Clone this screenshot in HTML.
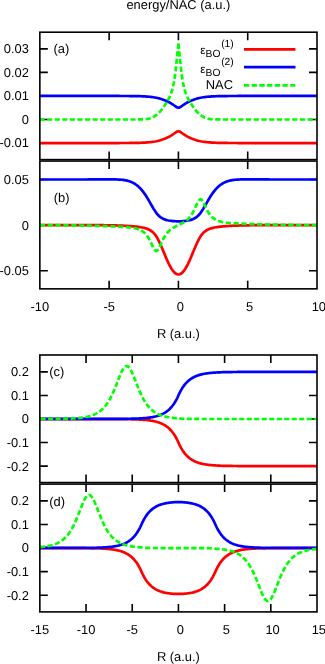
<!DOCTYPE html>
<html><head><meta charset="utf-8"><title>plot</title>
<style>
html,body{margin:0;padding:0;background:#fff;}
body{width:325px;height:664px;overflow:hidden;}
svg{display:block;will-change:transform;text-rendering:geometricPrecision;font-family:"Liberation Sans",sans-serif;fill:#000;}
</style></head><body>
<svg width="325" height="664" viewBox="0 0 325 664">
<rect width="325" height="664" fill="#fff"/>
<clipPath id="cpa"><rect x="39.85" y="32.2" width="277.15" height="127.39999999999999"/></clipPath>
<path d="M109.14,159.6 V151.6 M109.14,32.2 V40.2 M178.42,159.6 V151.6 M178.42,32.2 V40.2 M247.71,159.6 V151.6 M247.71,32.2 V40.2 M39.85,143.05 H47.85 M317.0,143.05 H309.0 M39.85,119.50 H47.85 M317.0,119.50 H309.0 M39.85,95.95 H47.85 M317.0,95.95 H309.0 M39.85,72.40 H47.85 M317.0,72.40 H309.0 M39.85,48.85 H47.85 M317.0,48.85 H309.0" fill="none" stroke="#000" stroke-width="1.6"/>
<g clip-path="url(#cpa)">
<path d="M39.85,143.05 L41.24,143.05 L42.62,143.05 L44.01,143.05 L45.39,143.05 L46.78,143.05 L48.16,143.05 L49.55,143.05 L50.94,143.05 L52.32,143.05 L53.71,143.05 L55.09,143.05 L56.48,143.05 L57.86,143.05 L59.25,143.05 L60.64,143.05 L62.02,143.05 L63.41,143.05 L64.79,143.05 L66.18,143.05 L67.56,143.05 L68.95,143.05 L70.34,143.05 L71.72,143.05 L73.11,143.05 L74.49,143.05 L75.88,143.05 L77.27,143.05 L78.65,143.05 L80.04,143.05 L81.42,143.05 L82.81,143.05 L84.19,143.05 L85.58,143.05 L86.97,143.05 L88.35,143.05 L89.74,143.05 L91.12,143.05 L92.51,143.05 L93.89,143.05 L95.28,143.05 L96.67,143.05 L98.05,143.05 L99.44,143.05 L100.82,143.05 L102.21,143.05 L103.59,143.05 L104.98,143.05 L106.37,143.04 L107.75,143.04 L109.14,143.04 L110.52,143.04 L111.91,143.04 L113.29,143.04 L114.68,143.04 L116.07,143.03 L117.45,143.03 L118.84,143.03 L120.22,143.02 L121.61,143.02 L123.00,143.01 L124.38,143.00 L125.77,143.00 L127.15,142.99 L128.54,142.98 L129.92,142.96 L131.31,142.95 L132.70,142.93 L134.08,142.91 L135.47,142.88 L136.85,142.86 L138.24,142.82 L139.62,142.78 L141.01,142.74 L142.40,142.68 L143.78,142.62 L145.17,142.54 L146.55,142.46 L147.94,142.35 L149.32,142.23 L150.71,142.09 L152.10,141.93 L153.48,141.73 L154.87,141.51 L156.25,141.25 L157.64,140.95 L159.02,140.61 L160.41,140.22 L161.80,139.79 L163.18,139.31 L164.57,138.79 L165.95,138.22 L167.34,137.60 L168.72,136.93 L170.11,136.19 L171.50,135.38 L172.88,134.49 L174.27,133.51 L175.65,132.52 L177.04,131.67 L178.42,131.28 L179.81,131.67 L181.20,132.52 L182.58,133.51 L183.97,134.49 L185.35,135.38 L186.74,136.19 L188.13,136.93 L189.51,137.60 L190.90,138.22 L192.28,138.79 L193.67,139.31 L195.05,139.79 L196.44,140.22 L197.83,140.61 L199.21,140.95 L200.60,141.25 L201.98,141.51 L203.37,141.73 L204.75,141.93 L206.14,142.09 L207.53,142.23 L208.91,142.35 L210.30,142.46 L211.68,142.54 L213.07,142.62 L214.45,142.68 L215.84,142.74 L217.23,142.78 L218.61,142.82 L220.00,142.86 L221.38,142.88 L222.77,142.91 L224.15,142.93 L225.54,142.95 L226.93,142.96 L228.31,142.98 L229.70,142.99 L231.08,143.00 L232.47,143.00 L233.85,143.01 L235.24,143.02 L236.63,143.02 L238.01,143.03 L239.40,143.03 L240.78,143.03 L242.17,143.04 L243.56,143.04 L244.94,143.04 L246.33,143.04 L247.71,143.04 L249.10,143.04 L250.48,143.04 L251.87,143.05 L253.26,143.05 L254.64,143.05 L256.03,143.05 L257.41,143.05 L258.80,143.05 L260.18,143.05 L261.57,143.05 L262.96,143.05 L264.34,143.05 L265.73,143.05 L267.11,143.05 L268.50,143.05 L269.88,143.05 L271.27,143.05 L272.66,143.05 L274.04,143.05 L275.43,143.05 L276.81,143.05 L278.20,143.05 L279.58,143.05 L280.97,143.05 L282.36,143.05 L283.74,143.05 L285.13,143.05 L286.51,143.05 L287.90,143.05 L289.28,143.05 L290.67,143.05 L292.06,143.05 L293.44,143.05 L294.83,143.05 L296.21,143.05 L297.60,143.05 L298.99,143.05 L300.37,143.05 L301.76,143.05 L303.14,143.05 L304.53,143.05 L305.91,143.05 L307.30,143.05 L308.69,143.05 L310.07,143.05 L311.46,143.05 L312.84,143.05 L314.23,143.05 L315.61,143.05 L317.00,143.05" fill="none" stroke="#ff0000" stroke-width="2.7" stroke-linejoin="round"/>
<path d="M39.85,95.95 L41.24,95.95 L42.62,95.95 L44.01,95.95 L45.39,95.95 L46.78,95.95 L48.16,95.95 L49.55,95.95 L50.94,95.95 L52.32,95.95 L53.71,95.95 L55.09,95.95 L56.48,95.95 L57.86,95.95 L59.25,95.95 L60.64,95.95 L62.02,95.95 L63.41,95.95 L64.79,95.95 L66.18,95.95 L67.56,95.95 L68.95,95.95 L70.34,95.95 L71.72,95.95 L73.11,95.95 L74.49,95.95 L75.88,95.95 L77.27,95.95 L78.65,95.95 L80.04,95.95 L81.42,95.95 L82.81,95.95 L84.19,95.95 L85.58,95.95 L86.97,95.95 L88.35,95.95 L89.74,95.95 L91.12,95.95 L92.51,95.95 L93.89,95.95 L95.28,95.95 L96.67,95.95 L98.05,95.95 L99.44,95.95 L100.82,95.95 L102.21,95.95 L103.59,95.95 L104.98,95.95 L106.37,95.96 L107.75,95.96 L109.14,95.96 L110.52,95.96 L111.91,95.96 L113.29,95.96 L114.68,95.96 L116.07,95.97 L117.45,95.97 L118.84,95.97 L120.22,95.98 L121.61,95.98 L123.00,95.99 L124.38,96.00 L125.77,96.00 L127.15,96.01 L128.54,96.02 L129.92,96.04 L131.31,96.05 L132.70,96.07 L134.08,96.09 L135.47,96.12 L136.85,96.14 L138.24,96.18 L139.62,96.22 L141.01,96.26 L142.40,96.32 L143.78,96.38 L145.17,96.46 L146.55,96.54 L147.94,96.65 L149.32,96.77 L150.71,96.91 L152.10,97.07 L153.48,97.27 L154.87,97.49 L156.25,97.75 L157.64,98.05 L159.02,98.39 L160.41,98.78 L161.80,99.21 L163.18,99.69 L164.57,100.21 L165.95,100.78 L167.34,101.40 L168.72,102.07 L170.11,102.81 L171.50,103.62 L172.88,104.51 L174.27,105.49 L175.65,106.48 L177.04,107.33 L178.42,107.72 L179.81,107.33 L181.20,106.48 L182.58,105.49 L183.97,104.51 L185.35,103.62 L186.74,102.81 L188.13,102.07 L189.51,101.40 L190.90,100.78 L192.28,100.21 L193.67,99.69 L195.05,99.21 L196.44,98.78 L197.83,98.39 L199.21,98.05 L200.60,97.75 L201.98,97.49 L203.37,97.27 L204.75,97.07 L206.14,96.91 L207.53,96.77 L208.91,96.65 L210.30,96.54 L211.68,96.46 L213.07,96.38 L214.45,96.32 L215.84,96.26 L217.23,96.22 L218.61,96.18 L220.00,96.14 L221.38,96.12 L222.77,96.09 L224.15,96.07 L225.54,96.05 L226.93,96.04 L228.31,96.02 L229.70,96.01 L231.08,96.00 L232.47,96.00 L233.85,95.99 L235.24,95.98 L236.63,95.98 L238.01,95.97 L239.40,95.97 L240.78,95.97 L242.17,95.96 L243.56,95.96 L244.94,95.96 L246.33,95.96 L247.71,95.96 L249.10,95.96 L250.48,95.96 L251.87,95.95 L253.26,95.95 L254.64,95.95 L256.03,95.95 L257.41,95.95 L258.80,95.95 L260.18,95.95 L261.57,95.95 L262.96,95.95 L264.34,95.95 L265.73,95.95 L267.11,95.95 L268.50,95.95 L269.88,95.95 L271.27,95.95 L272.66,95.95 L274.04,95.95 L275.43,95.95 L276.81,95.95 L278.20,95.95 L279.58,95.95 L280.97,95.95 L282.36,95.95 L283.74,95.95 L285.13,95.95 L286.51,95.95 L287.90,95.95 L289.28,95.95 L290.67,95.95 L292.06,95.95 L293.44,95.95 L294.83,95.95 L296.21,95.95 L297.60,95.95 L298.99,95.95 L300.37,95.95 L301.76,95.95 L303.14,95.95 L304.53,95.95 L305.91,95.95 L307.30,95.95 L308.69,95.95 L310.07,95.95 L311.46,95.95 L312.84,95.95 L314.23,95.95 L315.61,95.95 L317.00,95.95" fill="none" stroke="#0000ff" stroke-width="2.7" stroke-linejoin="round"/>
<path d="M178.42,43.69 L176.94,58.17 L175.46,72.08 L173.98,82.17 L172.49,88.98 L171.01,93.70 L169.53,97.20 L168.05,100.05 L166.56,102.55 L165.08,104.85 L163.60,107.01 L162.11,109.01 L160.63,110.85 L159.15,112.50 L157.67,113.94 L156.18,115.17 L154.70,116.19 L153.22,117.02 L151.74,117.68 L150.25,118.19 L148.77,118.58 L147.29,118.86 L145.80,119.07 L144.32,119.22 L142.84,119.32 L141.36,119.38 L139.87,119.43 L138.39,119.46 L136.91,119.47 L135.43,119.48 L133.94,119.49 L132.46,119.50 L130.98,119.50 L129.49,119.50 L128.01,119.50 L126.53,119.50 L125.05,119.50 L123.56,119.50 L122.08,119.50 L120.60,119.50 L119.11,119.50 L117.63,119.50 L116.15,119.50 L114.67,119.50 L113.18,119.50 L111.70,119.50 L110.22,119.50 L108.74,119.50 L107.25,119.50 L105.77,119.50 L104.29,119.50 L102.80,119.50 L101.32,119.50 L99.84,119.50 L98.36,119.50 L96.87,119.50 L95.39,119.50 L93.91,119.50 L92.43,119.50 L90.94,119.50 L89.46,119.50 L87.98,119.50 L86.49,119.50 L85.01,119.50 L83.53,119.50 L82.05,119.50 L80.56,119.50 L79.08,119.50 L77.60,119.50 L76.12,119.50 L74.63,119.50 L73.15,119.50 L71.67,119.50 L70.18,119.50 L68.70,119.50 L67.22,119.50 L65.74,119.50 L64.25,119.50 L62.77,119.50 L61.29,119.50 L59.80,119.50 L58.32,119.50 L56.84,119.50 L55.36,119.50 L53.87,119.50 L52.39,119.50 L50.91,119.50 L49.43,119.50 L47.94,119.50 L46.46,119.50 L44.98,119.50 L43.49,119.50 L42.01,119.50 L40.53,119.50 L39.85,119.50 L39.85,119.50 L39.85,119.50 L39.85,119.50 L39.85,119.50 L39.85,119.50 L39.85,119.50" fill="none" stroke="#00ff00" stroke-width="2.7" stroke-dasharray="5.116,2.460" stroke-linejoin="round"/>
<path d="M178.42,43.69 L179.91,58.17 L181.39,72.08 L182.87,82.17 L184.36,88.98 L185.84,93.70 L187.32,97.20 L188.80,100.05 L190.29,102.55 L191.77,104.85 L193.25,107.01 L194.74,109.01 L196.22,110.85 L197.70,112.50 L199.18,113.94 L200.67,115.17 L202.15,116.19 L203.63,117.02 L205.11,117.68 L206.60,118.19 L208.08,118.58 L209.56,118.86 L211.05,119.07 L212.53,119.22 L214.01,119.32 L215.49,119.38 L216.98,119.43 L218.46,119.46 L219.94,119.47 L221.42,119.48 L222.91,119.49 L224.39,119.50 L225.87,119.50 L227.36,119.50 L228.84,119.50 L230.32,119.50 L231.80,119.50 L233.29,119.50 L234.77,119.50 L236.25,119.50 L237.74,119.50 L239.22,119.50 L240.70,119.50 L242.18,119.50 L243.67,119.50 L245.15,119.50 L246.63,119.50 L248.11,119.50 L249.60,119.50 L251.08,119.50 L252.56,119.50 L254.05,119.50 L255.53,119.50 L257.01,119.50 L258.49,119.50 L259.98,119.50 L261.46,119.50 L262.94,119.50 L264.42,119.50 L265.91,119.50 L267.39,119.50 L268.87,119.50 L270.36,119.50 L271.84,119.50 L273.32,119.50 L274.80,119.50 L276.29,119.50 L277.77,119.50 L279.25,119.50 L280.73,119.50 L282.22,119.50 L283.70,119.50 L285.18,119.50 L286.67,119.50 L288.15,119.50 L289.63,119.50 L291.11,119.50 L292.60,119.50 L294.08,119.50 L295.56,119.50 L297.05,119.50 L298.53,119.50 L300.01,119.50 L301.49,119.50 L302.98,119.50 L304.46,119.50 L305.94,119.50 L307.42,119.50 L308.91,119.50 L310.39,119.50 L311.87,119.50 L313.36,119.50 L314.84,119.50 L316.32,119.50 L317.00,119.50 L317.00,119.50 L317.00,119.50 L317.00,119.50 L317.00,119.50 L317.00,119.50 L317.00,119.50" fill="none" stroke="#00ff00" stroke-width="2.7" stroke-dasharray="5.200,2.500" stroke-linejoin="round"/>
</g>
<rect x="39.85" y="32.2" width="277.15" height="127.39999999999999" fill="none" stroke="#000" stroke-width="1.6"/>
<text x="28.85" y="147.45" text-anchor="end" font-size="12.9">-0.01</text>
<text x="28.85" y="123.90" text-anchor="end" font-size="12.9">0</text>
<text x="28.85" y="100.35" text-anchor="end" font-size="12.9">0.01</text>
<text x="28.85" y="76.80" text-anchor="end" font-size="12.9">0.02</text>
<text x="28.85" y="53.25" text-anchor="end" font-size="12.9">0.03</text>
<text x="53.50" y="53.00" text-anchor="start" font-size="12.9">(a)</text>
<clipPath id="cpb"><rect x="39.85" y="161.05" width="277.15" height="127.80000000000001"/></clipPath>
<path d="M109.14,288.85 V280.85 M109.14,161.05 V169.05 M178.42,288.85 V280.85 M178.42,161.05 V169.05 M247.71,288.85 V280.85 M247.71,161.05 V169.05 M39.85,270.70 H47.85 M317.0,270.70 H309.0 M39.85,225.10 H47.85 M317.0,225.10 H309.0 M39.85,179.50 H47.85 M317.0,179.50 H309.0" fill="none" stroke="#000" stroke-width="1.6"/>
<g clip-path="url(#cpb)">
<path d="M39.85,225.10 L41.24,225.10 L42.62,225.10 L44.01,225.10 L45.39,225.10 L46.78,225.10 L48.16,225.10 L49.55,225.10 L50.94,225.10 L52.32,225.10 L53.71,225.10 L55.09,225.10 L56.48,225.10 L57.86,225.10 L59.25,225.10 L60.64,225.10 L62.02,225.10 L63.41,225.10 L64.79,225.10 L66.18,225.10 L67.56,225.10 L68.95,225.10 L70.34,225.10 L71.72,225.10 L73.11,225.10 L74.49,225.10 L75.88,225.11 L77.27,225.11 L78.65,225.11 L80.04,225.11 L81.42,225.11 L82.81,225.11 L84.19,225.12 L85.58,225.12 L86.97,225.12 L88.35,225.13 L89.74,225.13 L91.12,225.14 L92.51,225.14 L93.89,225.15 L95.28,225.15 L96.67,225.16 L98.05,225.17 L99.44,225.18 L100.82,225.20 L102.21,225.21 L103.59,225.22 L104.98,225.24 L106.37,225.26 L107.75,225.28 L109.14,225.30 L110.52,225.33 L111.91,225.36 L113.29,225.39 L114.68,225.42 L116.07,225.46 L117.45,225.50 L118.84,225.55 L120.22,225.60 L121.61,225.65 L123.00,225.71 L124.38,225.77 L125.77,225.84 L127.15,225.91 L128.54,226.00 L129.92,226.09 L131.31,226.18 L132.70,226.29 L134.08,226.41 L135.47,226.55 L136.85,226.69 L138.24,226.86 L139.62,227.05 L141.01,227.27 L142.40,227.53 L143.78,227.82 L145.17,228.17 L146.55,228.60 L147.94,229.11 L149.32,229.75 L150.71,230.54 L152.10,231.54 L153.48,232.80 L154.87,234.37 L156.25,236.31 L157.64,238.63 L159.02,241.31 L160.41,244.28 L161.80,247.47 L163.18,250.79 L164.57,254.14 L165.95,257.44 L167.34,260.62 L168.72,263.59 L170.11,266.30 L171.50,268.70 L172.88,270.73 L174.27,272.35 L175.65,273.53 L177.04,274.25 L178.42,274.49 L179.81,274.25 L181.20,273.53 L182.58,272.35 L183.97,270.73 L185.35,268.70 L186.74,266.30 L188.13,263.59 L189.51,260.62 L190.90,257.44 L192.28,254.14 L193.67,250.79 L195.05,247.47 L196.44,244.28 L197.83,241.31 L199.21,238.63 L200.60,236.31 L201.98,234.37 L203.37,232.80 L204.75,231.54 L206.14,230.54 L207.53,229.75 L208.91,229.11 L210.30,228.60 L211.68,228.17 L213.07,227.82 L214.45,227.53 L215.84,227.27 L217.23,227.05 L218.61,226.86 L220.00,226.69 L221.38,226.55 L222.77,226.41 L224.15,226.29 L225.54,226.18 L226.93,226.09 L228.31,226.00 L229.70,225.91 L231.08,225.84 L232.47,225.77 L233.85,225.71 L235.24,225.65 L236.63,225.60 L238.01,225.55 L239.40,225.50 L240.78,225.46 L242.17,225.42 L243.56,225.39 L244.94,225.36 L246.33,225.33 L247.71,225.30 L249.10,225.28 L250.48,225.26 L251.87,225.24 L253.26,225.22 L254.64,225.21 L256.03,225.20 L257.41,225.18 L258.80,225.17 L260.18,225.16 L261.57,225.15 L262.96,225.15 L264.34,225.14 L265.73,225.14 L267.11,225.13 L268.50,225.13 L269.88,225.12 L271.27,225.12 L272.66,225.12 L274.04,225.11 L275.43,225.11 L276.81,225.11 L278.20,225.11 L279.58,225.11 L280.97,225.11 L282.36,225.10 L283.74,225.10 L285.13,225.10 L286.51,225.10 L287.90,225.10 L289.28,225.10 L290.67,225.10 L292.06,225.10 L293.44,225.10 L294.83,225.10 L296.21,225.10 L297.60,225.10 L298.99,225.10 L300.37,225.10 L301.76,225.10 L303.14,225.10 L304.53,225.10 L305.91,225.10 L307.30,225.10 L308.69,225.10 L310.07,225.10 L311.46,225.10 L312.84,225.10 L314.23,225.10 L315.61,225.10 L317.00,225.10" fill="none" stroke="#ff0000" stroke-width="2.7" stroke-linejoin="round"/>
<path d="M39.85,179.50 L41.24,179.50 L42.62,179.50 L44.01,179.50 L45.39,179.50 L46.78,179.50 L48.16,179.50 L49.55,179.50 L50.94,179.50 L52.32,179.50 L53.71,179.50 L55.09,179.50 L56.48,179.50 L57.86,179.50 L59.25,179.50 L60.64,179.50 L62.02,179.50 L63.41,179.50 L64.79,179.50 L66.18,179.50 L67.56,179.50 L68.95,179.50 L70.34,179.50 L71.72,179.50 L73.11,179.50 L74.49,179.50 L75.88,179.49 L77.27,179.49 L78.65,179.49 L80.04,179.49 L81.42,179.49 L82.81,179.49 L84.19,179.48 L85.58,179.48 L86.97,179.48 L88.35,179.47 L89.74,179.47 L91.12,179.47 L92.51,179.46 L93.89,179.46 L95.28,179.45 L96.67,179.44 L98.05,179.44 L99.44,179.43 L100.82,179.42 L102.21,179.41 L103.59,179.40 L104.98,179.39 L106.37,179.39 L107.75,179.38 L109.14,179.38 L110.52,179.38 L111.91,179.39 L113.29,179.40 L114.68,179.42 L116.07,179.45 L117.45,179.50 L118.84,179.57 L120.22,179.66 L121.61,179.77 L123.00,179.93 L124.38,180.12 L125.77,180.36 L127.15,180.66 L128.54,181.02 L129.92,181.47 L131.31,182.00 L132.70,182.63 L134.08,183.37 L135.47,184.24 L136.85,185.24 L138.24,186.39 L139.62,187.70 L141.01,189.17 L142.40,190.81 L143.78,192.63 L145.17,194.60 L146.55,196.74 L147.94,199.01 L149.32,201.38 L150.71,203.82 L152.10,206.25 L153.48,208.62 L154.87,210.83 L156.25,212.82 L157.64,214.54 L159.02,215.97 L160.41,217.14 L161.80,218.06 L163.18,218.80 L164.57,219.38 L165.95,219.85 L167.34,220.22 L168.72,220.52 L170.11,220.75 L171.50,220.93 L172.88,221.08 L174.27,221.18 L175.65,221.25 L177.04,221.30 L178.42,221.31 L179.81,221.30 L181.20,221.25 L182.58,221.18 L183.97,221.08 L185.35,220.93 L186.74,220.75 L188.13,220.52 L189.51,220.22 L190.90,219.85 L192.28,219.38 L193.67,218.80 L195.05,218.06 L196.44,217.14 L197.83,215.97 L199.21,214.54 L200.60,212.82 L201.98,210.83 L203.37,208.62 L204.75,206.25 L206.14,203.82 L207.53,201.38 L208.91,199.01 L210.30,196.74 L211.68,194.60 L213.07,192.63 L214.45,190.81 L215.84,189.17 L217.23,187.70 L218.61,186.39 L220.00,185.24 L221.38,184.24 L222.77,183.37 L224.15,182.63 L225.54,182.00 L226.93,181.47 L228.31,181.02 L229.70,180.66 L231.08,180.36 L232.47,180.12 L233.85,179.93 L235.24,179.77 L236.63,179.66 L238.01,179.57 L239.40,179.50 L240.78,179.45 L242.17,179.42 L243.56,179.40 L244.94,179.39 L246.33,179.38 L247.71,179.38 L249.10,179.38 L250.48,179.39 L251.87,179.39 L253.26,179.40 L254.64,179.41 L256.03,179.42 L257.41,179.43 L258.80,179.44 L260.18,179.44 L261.57,179.45 L262.96,179.46 L264.34,179.46 L265.73,179.47 L267.11,179.47 L268.50,179.47 L269.88,179.48 L271.27,179.48 L272.66,179.48 L274.04,179.49 L275.43,179.49 L276.81,179.49 L278.20,179.49 L279.58,179.49 L280.97,179.49 L282.36,179.50 L283.74,179.50 L285.13,179.50 L286.51,179.50 L287.90,179.50 L289.28,179.50 L290.67,179.50 L292.06,179.50 L293.44,179.50 L294.83,179.50 L296.21,179.50 L297.60,179.50 L298.99,179.50 L300.37,179.50 L301.76,179.50 L303.14,179.50 L304.53,179.50 L305.91,179.50 L307.30,179.50 L308.69,179.50 L310.07,179.50 L311.46,179.50 L312.84,179.50 L314.23,179.50 L315.61,179.50 L317.00,179.50" fill="none" stroke="#0000ff" stroke-width="2.7" stroke-linejoin="round"/>
<path d="M39.85,225.13 L41.24,225.13 L42.62,225.13 L44.01,225.14 L45.39,225.14 L46.78,225.15 L48.16,225.15 L49.55,225.16 L50.94,225.16 L52.32,225.17 L53.71,225.18 L55.09,225.18 L56.48,225.19 L57.86,225.20 L59.25,225.21 L60.64,225.22 L62.02,225.23 L63.41,225.25 L64.79,225.26 L66.18,225.27 L67.56,225.29 L68.95,225.30 L70.34,225.32 L71.72,225.34 L73.11,225.36 L74.49,225.38 L75.88,225.40 L77.27,225.43 L78.65,225.45 L80.04,225.48 L81.42,225.50 L82.81,225.53 L84.19,225.56 L85.58,225.60 L86.97,225.63 L88.35,225.66 L89.74,225.70 L91.12,225.74 L92.51,225.77 L93.89,225.81 L95.28,225.85 L96.67,225.90 L98.05,225.94 L99.44,225.98 L100.82,226.03 L102.21,226.07 L103.59,226.12 L104.98,226.17 L106.37,226.21 L107.75,226.26 L109.14,226.31 L110.52,226.36 L111.91,226.41 L113.29,226.46 L114.68,226.52 L116.07,226.57 L117.45,226.63 L118.84,226.69 L120.22,226.75 L121.61,226.82 L123.00,226.90 L124.38,226.99 L125.77,227.08 L127.15,227.20 L128.54,227.32 L129.92,227.47 L131.31,227.65 L132.70,227.86 L134.08,228.11 L135.47,228.42 L136.85,228.78 L138.24,229.23 L139.62,229.77 L141.01,230.44 L142.40,231.26 L143.78,232.28 L145.17,233.54 L146.55,235.11 L147.94,237.05 L149.32,239.38 L150.71,242.11 L152.10,245.08 L153.48,247.94 L154.87,250.13 L156.25,251.03 L157.64,250.31 L159.02,248.21 L160.41,245.30 L161.80,242.18 L163.18,239.26 L164.57,236.71 L165.95,234.55 L167.34,232.75 L168.72,231.26 L170.11,230.01 L171.50,228.95 L172.88,228.03 L174.27,227.21 L175.65,226.47 L177.04,225.77 L178.42,225.10 L179.81,224.43 L181.20,223.73 L182.58,222.99 L183.97,222.17 L185.35,221.25 L186.74,220.19 L188.13,218.94 L189.51,217.45 L190.90,215.65 L192.28,213.49 L193.67,210.94 L195.05,208.02 L196.44,204.90 L197.83,201.99 L199.21,199.89 L200.60,199.17 L201.98,200.07 L203.37,202.26 L204.75,205.12 L206.14,208.09 L207.53,210.82 L208.91,213.15 L210.30,215.09 L211.68,216.66 L213.07,217.92 L214.45,218.94 L215.84,219.76 L217.23,220.43 L218.61,220.97 L220.00,221.42 L221.38,221.78 L222.77,222.09 L224.15,222.34 L225.54,222.55 L226.93,222.73 L228.31,222.88 L229.70,223.00 L231.08,223.12 L232.47,223.21 L233.85,223.30 L235.24,223.38 L236.63,223.45 L238.01,223.51 L239.40,223.57 L240.78,223.63 L242.17,223.68 L243.56,223.74 L244.94,223.79 L246.33,223.84 L247.71,223.89 L249.10,223.94 L250.48,223.99 L251.87,224.03 L253.26,224.08 L254.64,224.13 L256.03,224.17 L257.41,224.22 L258.80,224.26 L260.18,224.30 L261.57,224.35 L262.96,224.39 L264.34,224.43 L265.73,224.46 L267.11,224.50 L268.50,224.54 L269.88,224.57 L271.27,224.60 L272.66,224.64 L274.04,224.67 L275.43,224.70 L276.81,224.72 L278.20,224.75 L279.58,224.77 L280.97,224.80 L282.36,224.82 L283.74,224.84 L285.13,224.86 L286.51,224.88 L287.90,224.90 L289.28,224.91 L290.67,224.93 L292.06,224.94 L293.44,224.95 L294.83,224.97 L296.21,224.98 L297.60,224.99 L298.99,225.00 L300.37,225.01 L301.76,225.02 L303.14,225.02 L304.53,225.03 L305.91,225.04 L307.30,225.04 L308.69,225.05 L310.07,225.05 L311.46,225.06 L312.84,225.06 L314.23,225.07 L315.61,225.07 L317.00,225.07" fill="none" stroke="#00ff00" stroke-width="2.7" stroke-dasharray="5.287,2.542" stroke-linejoin="round"/>
</g>
<rect x="39.85" y="161.05" width="277.15" height="127.80000000000001" fill="none" stroke="#000" stroke-width="1.6"/>
<text x="28.85" y="275.10" text-anchor="end" font-size="12.9">-0.05</text>
<text x="28.85" y="229.50" text-anchor="end" font-size="12.9">0</text>
<text x="28.85" y="183.90" text-anchor="end" font-size="12.9">0.05</text>
<text x="53.70" y="201.80" text-anchor="start" font-size="12.9">(b)</text>
<text x="39.85" y="311.30" text-anchor="middle" font-size="12.9">-10</text>
<text x="109.14" y="311.30" text-anchor="middle" font-size="12.9">-5</text>
<text x="180.22" y="311.30" text-anchor="middle" font-size="12.9">0</text>
<text x="249.51" y="311.30" text-anchor="middle" font-size="12.9">5</text>
<text x="318.80" y="311.30" text-anchor="middle" font-size="12.9">10</text>
<clipPath id="cpc"><rect x="39.85" y="355.0" width="277.15" height="127.55000000000001"/></clipPath>
<path d="M86.04,482.55 V474.55 M86.04,355.0 V363.0 M132.23,482.55 V474.55 M132.23,355.0 V363.0 M178.42,482.55 V474.55 M178.42,355.0 V363.0 M224.62,482.55 V474.55 M224.62,355.0 V363.0 M270.81,482.55 V474.55 M270.81,355.0 V363.0 M39.85,466.10 H47.85 M317.0,466.10 H309.0 M39.85,442.55 H47.85 M317.0,442.55 H309.0 M39.85,419.00 H47.85 M317.0,419.00 H309.0 M39.85,395.45 H47.85 M317.0,395.45 H309.0 M39.85,371.90 H47.85 M317.0,371.90 H309.0" fill="none" stroke="#000" stroke-width="1.6"/>
<g clip-path="url(#cpc)">
<path d="M39.85,419.14 L40.77,419.14 L41.70,419.14 L42.62,419.14 L43.55,419.14 L44.47,419.14 L45.39,419.14 L46.32,419.14 L47.24,419.14 L48.16,419.14 L49.09,419.14 L50.01,419.14 L50.94,419.14 L51.86,419.14 L52.78,419.14 L53.71,419.14 L54.63,419.14 L55.56,419.14 L56.48,419.14 L57.40,419.14 L58.33,419.14 L59.25,419.14 L60.17,419.14 L61.10,419.14 L62.02,419.14 L62.95,419.14 L63.87,419.14 L64.79,419.14 L65.72,419.14 L66.64,419.14 L67.56,419.14 L68.49,419.14 L69.41,419.14 L70.34,419.14 L71.26,419.14 L72.18,419.14 L73.11,419.14 L74.03,419.14 L74.96,419.14 L75.88,419.14 L76.80,419.14 L77.73,419.14 L78.65,419.14 L79.57,419.14 L80.50,419.14 L81.42,419.14 L82.35,419.14 L83.27,419.14 L84.19,419.14 L85.12,419.14 L86.04,419.14 L86.97,419.14 L87.89,419.14 L88.81,419.14 L89.74,419.14 L90.66,419.14 L91.58,419.14 L92.51,419.14 L93.43,419.14 L94.36,419.14 L95.28,419.14 L96.20,419.14 L97.13,419.14 L98.05,419.14 L98.98,419.14 L99.90,419.14 L100.82,419.14 L101.75,419.14 L102.67,419.14 L103.59,419.14 L104.52,419.14 L105.44,419.14 L106.37,419.14 L107.29,419.14 L108.21,419.14 L109.14,419.14 L110.06,419.14 L110.99,419.15 L111.91,419.15 L112.83,419.15 L113.76,419.15 L114.68,419.15 L115.60,419.15 L116.53,419.15 L117.45,419.15 L118.38,419.16 L119.30,419.16 L120.22,419.16 L121.15,419.17 L122.07,419.17 L123.00,419.18 L123.92,419.18 L124.84,419.19 L125.77,419.20 L126.69,419.21 L127.61,419.22 L128.54,419.23 L129.46,419.24 L130.39,419.26 L131.31,419.28 L132.23,419.30 L133.16,419.32 L134.08,419.34 L135.00,419.37 L135.93,419.40 L136.85,419.43 L137.78,419.47 L138.70,419.51 L139.62,419.56 L140.55,419.60 L141.47,419.66 L142.40,419.72 L143.32,419.78 L144.24,419.85 L145.17,419.93 L146.09,420.02 L147.01,420.11 L147.94,420.22 L148.86,420.33 L149.79,420.45 L150.71,420.59 L151.63,420.74 L152.56,420.90 L153.48,421.08 L154.41,421.27 L155.33,421.49 L156.25,421.72 L157.18,421.98 L158.10,422.25 L159.02,422.56 L159.95,422.90 L160.87,423.26 L161.80,423.66 L162.72,424.10 L163.64,424.58 L164.57,425.11 L165.49,425.68 L166.42,426.31 L167.34,427.00 L168.26,427.75 L169.19,428.58 L170.11,429.48 L171.03,430.46 L171.96,431.54 L172.88,432.72 L173.81,434.02 L174.73,435.43 L175.65,436.98 L176.58,438.67 L177.50,440.52 L178.42,442.55 L179.35,444.58 L180.27,446.43 L181.20,448.12 L182.12,449.67 L183.04,451.08 L183.97,452.38 L184.89,453.56 L185.82,454.64 L186.74,455.62 L187.66,456.53 L188.59,457.35 L189.51,458.10 L190.43,458.79 L191.36,459.42 L192.28,460.00 L193.21,460.52 L194.13,461.00 L195.05,461.44 L195.98,461.84 L196.90,462.21 L197.83,462.54 L198.75,462.85 L199.67,463.13 L200.60,463.38 L201.52,463.62 L202.44,463.83 L203.37,464.03 L204.29,464.21 L205.22,464.37 L206.14,464.52 L207.06,464.65 L207.99,464.78 L208.91,464.89 L209.84,465.00 L210.76,465.09 L211.68,465.18 L212.61,465.26 L213.53,465.33 L214.45,465.40 L215.38,465.46 L216.30,465.51 L217.23,465.56 L218.15,465.61 L219.07,465.65 L220.00,465.69 L220.92,465.73 L221.85,465.76 L222.77,465.79 L223.69,465.81 L224.62,465.84 L225.54,465.86 L226.46,465.88 L227.39,465.90 L228.31,465.92 L229.24,465.93 L230.16,465.95 L231.08,465.96 L232.01,465.97 L232.93,465.98 L233.85,465.99 L234.78,466.00 L235.70,466.01 L236.63,466.02 L237.55,466.03 L238.47,466.03 L239.40,466.04 L240.32,466.04 L241.25,466.05 L242.17,466.05 L243.09,466.06 L244.02,466.06 L244.94,466.06 L245.86,466.07 L246.79,466.07 L247.71,466.07 L248.64,466.08 L249.56,466.08 L250.48,466.08 L251.41,466.08 L252.33,466.08 L253.26,466.08 L254.18,466.09 L255.10,466.09 L256.03,466.09 L256.95,466.09 L257.87,466.09 L258.80,466.09 L259.72,466.09 L260.65,466.09 L261.57,466.09 L262.49,466.09 L263.42,466.09 L264.34,466.09 L265.27,466.10 L266.19,466.10 L267.11,466.10 L268.04,466.10 L268.96,466.10 L269.88,466.10 L270.81,466.10 L271.73,466.10 L272.66,466.10 L273.58,466.10 L274.50,466.10 L275.43,466.10 L276.35,466.10 L277.28,466.10 L278.20,466.10 L279.12,466.10 L280.05,466.10 L280.97,466.10 L281.89,466.10 L282.82,466.10 L283.74,466.10 L284.67,466.10 L285.59,466.10 L286.51,466.10 L287.44,466.10 L288.36,466.10 L289.28,466.10 L290.21,466.10 L291.13,466.10 L292.06,466.10 L292.98,466.10 L293.90,466.10 L294.83,466.10 L295.75,466.10 L296.68,466.10 L297.60,466.10 L298.52,466.10 L299.45,466.10 L300.37,466.10 L301.29,466.10 L302.22,466.10 L303.14,466.10 L304.07,466.10 L304.99,466.10 L305.91,466.10 L306.84,466.10 L307.76,466.10 L308.69,466.10 L309.61,466.10 L310.53,466.10 L311.46,466.10 L312.38,466.10 L313.30,466.10 L314.23,466.10 L315.15,466.10 L316.08,466.10 L317.00,466.10" fill="none" stroke="#ff0000" stroke-width="2.7" stroke-linejoin="round"/>
<path d="M39.85,418.86 L40.77,418.86 L41.70,418.86 L42.62,418.86 L43.55,418.86 L44.47,418.86 L45.39,418.86 L46.32,418.86 L47.24,418.86 L48.16,418.86 L49.09,418.86 L50.01,418.86 L50.94,418.86 L51.86,418.86 L52.78,418.86 L53.71,418.86 L54.63,418.86 L55.56,418.86 L56.48,418.86 L57.40,418.86 L58.33,418.86 L59.25,418.86 L60.17,418.86 L61.10,418.86 L62.02,418.86 L62.95,418.86 L63.87,418.86 L64.79,418.86 L65.72,418.86 L66.64,418.86 L67.56,418.86 L68.49,418.86 L69.41,418.86 L70.34,418.86 L71.26,418.86 L72.18,418.86 L73.11,418.86 L74.03,418.86 L74.96,418.86 L75.88,418.86 L76.80,418.86 L77.73,418.86 L78.65,418.86 L79.57,418.86 L80.50,418.86 L81.42,418.86 L82.35,418.86 L83.27,418.86 L84.19,418.86 L85.12,418.86 L86.04,418.86 L86.97,418.86 L87.89,418.86 L88.81,418.86 L89.74,418.86 L90.66,418.86 L91.58,418.86 L92.51,418.86 L93.43,418.86 L94.36,418.86 L95.28,418.86 L96.20,418.86 L97.13,418.86 L98.05,418.86 L98.98,418.86 L99.90,418.86 L100.82,418.86 L101.75,418.86 L102.67,418.86 L103.59,418.86 L104.52,418.86 L105.44,418.86 L106.37,418.86 L107.29,418.86 L108.21,418.86 L109.14,418.86 L110.06,418.86 L110.99,418.85 L111.91,418.85 L112.83,418.85 L113.76,418.85 L114.68,418.85 L115.60,418.85 L116.53,418.85 L117.45,418.85 L118.38,418.84 L119.30,418.84 L120.22,418.84 L121.15,418.83 L122.07,418.83 L123.00,418.82 L123.92,418.82 L124.84,418.81 L125.77,418.80 L126.69,418.79 L127.61,418.78 L128.54,418.77 L129.46,418.76 L130.39,418.74 L131.31,418.72 L132.23,418.70 L133.16,418.68 L134.08,418.66 L135.00,418.63 L135.93,418.60 L136.85,418.57 L137.78,418.53 L138.70,418.49 L139.62,418.44 L140.55,418.40 L141.47,418.34 L142.40,418.28 L143.32,418.22 L144.24,418.15 L145.17,418.07 L146.09,417.98 L147.01,417.89 L147.94,417.78 L148.86,417.67 L149.79,417.55 L150.71,417.41 L151.63,417.26 L152.56,417.10 L153.48,416.92 L154.41,416.73 L155.33,416.51 L156.25,416.28 L157.18,416.02 L158.10,415.75 L159.02,415.44 L159.95,415.10 L160.87,414.74 L161.80,414.34 L162.72,413.90 L163.64,413.42 L164.57,412.89 L165.49,412.32 L166.42,411.69 L167.34,411.00 L168.26,410.25 L169.19,409.42 L170.11,408.52 L171.03,407.54 L171.96,406.46 L172.88,405.28 L173.81,403.98 L174.73,402.57 L175.65,401.02 L176.58,399.33 L177.50,397.48 L178.42,395.45 L179.35,393.42 L180.27,391.57 L181.20,389.88 L182.12,388.33 L183.04,386.92 L183.97,385.62 L184.89,384.44 L185.82,383.36 L186.74,382.38 L187.66,381.47 L188.59,380.65 L189.51,379.90 L190.43,379.21 L191.36,378.58 L192.28,378.00 L193.21,377.48 L194.13,377.00 L195.05,376.56 L195.98,376.16 L196.90,375.79 L197.83,375.46 L198.75,375.15 L199.67,374.87 L200.60,374.62 L201.52,374.38 L202.44,374.17 L203.37,373.97 L204.29,373.79 L205.22,373.63 L206.14,373.48 L207.06,373.35 L207.99,373.22 L208.91,373.11 L209.84,373.00 L210.76,372.91 L211.68,372.82 L212.61,372.74 L213.53,372.67 L214.45,372.60 L215.38,372.54 L216.30,372.49 L217.23,372.44 L218.15,372.39 L219.07,372.35 L220.00,372.31 L220.92,372.27 L221.85,372.24 L222.77,372.21 L223.69,372.19 L224.62,372.16 L225.54,372.14 L226.46,372.12 L227.39,372.10 L228.31,372.08 L229.24,372.07 L230.16,372.05 L231.08,372.04 L232.01,372.03 L232.93,372.02 L233.85,372.01 L234.78,372.00 L235.70,371.99 L236.63,371.98 L237.55,371.97 L238.47,371.97 L239.40,371.96 L240.32,371.96 L241.25,371.95 L242.17,371.95 L243.09,371.94 L244.02,371.94 L244.94,371.94 L245.86,371.93 L246.79,371.93 L247.71,371.93 L248.64,371.92 L249.56,371.92 L250.48,371.92 L251.41,371.92 L252.33,371.92 L253.26,371.92 L254.18,371.91 L255.10,371.91 L256.03,371.91 L256.95,371.91 L257.87,371.91 L258.80,371.91 L259.72,371.91 L260.65,371.91 L261.57,371.91 L262.49,371.91 L263.42,371.91 L264.34,371.91 L265.27,371.90 L266.19,371.90 L267.11,371.90 L268.04,371.90 L268.96,371.90 L269.88,371.90 L270.81,371.90 L271.73,371.90 L272.66,371.90 L273.58,371.90 L274.50,371.90 L275.43,371.90 L276.35,371.90 L277.28,371.90 L278.20,371.90 L279.12,371.90 L280.05,371.90 L280.97,371.90 L281.89,371.90 L282.82,371.90 L283.74,371.90 L284.67,371.90 L285.59,371.90 L286.51,371.90 L287.44,371.90 L288.36,371.90 L289.28,371.90 L290.21,371.90 L291.13,371.90 L292.06,371.90 L292.98,371.90 L293.90,371.90 L294.83,371.90 L295.75,371.90 L296.68,371.90 L297.60,371.90 L298.52,371.90 L299.45,371.90 L300.37,371.90 L301.29,371.90 L302.22,371.90 L303.14,371.90 L304.07,371.90 L304.99,371.90 L305.91,371.90 L306.84,371.90 L307.76,371.90 L308.69,371.90 L309.61,371.90 L310.53,371.90 L311.46,371.90 L312.38,371.90 L313.30,371.90 L314.23,371.90 L315.15,371.90 L316.08,371.90 L317.00,371.90" fill="none" stroke="#0000ff" stroke-width="2.7" stroke-linejoin="round"/>
<path d="M40.59,418.98 L41.51,418.97 L42.44,418.97 L43.36,418.97 L44.28,418.97 L45.21,418.96 L46.13,418.96 L47.06,418.95 L47.98,418.95 L48.90,418.95 L49.83,418.94 L50.75,418.93 L51.68,418.93 L52.60,418.92 L53.52,418.91 L54.45,418.91 L55.37,418.90 L56.29,418.89 L57.22,418.88 L58.14,418.87 L59.07,418.85 L59.99,418.84 L60.91,418.82 L61.84,418.81 L62.76,418.79 L63.68,418.77 L64.61,418.75 L65.53,418.72 L66.46,418.70 L67.38,418.67 L68.30,418.64 L69.23,418.61 L70.15,418.57 L71.08,418.53 L72.00,418.48 L72.92,418.43 L73.85,418.38 L74.77,418.32 L75.69,418.26 L76.62,418.19 L77.54,418.11 L78.47,418.03 L79.39,417.94 L80.31,417.84 L81.24,417.73 L82.16,417.61 L83.09,417.48 L84.01,417.34 L84.93,417.18 L85.86,417.01 L86.78,416.82 L87.70,416.62 L88.63,416.39 L89.55,416.15 L90.48,415.88 L91.40,415.59 L92.32,415.26 L93.25,414.91 L94.17,414.53 L95.10,414.11 L96.02,413.65 L96.94,413.15 L97.87,412.60 L98.79,412.01 L99.71,411.36 L100.64,410.64 L101.56,409.87 L102.49,409.02 L103.41,408.10 L104.33,407.10 L105.26,406.01 L106.18,404.83 L107.11,403.56 L108.03,402.17 L108.95,400.68 L109.88,399.08 L110.80,397.36 L111.72,395.52 L112.65,393.57 L113.57,391.51 L114.50,389.34 L115.42,387.09 L116.34,384.77 L117.27,382.40 L118.19,380.01 L119.11,377.66 L120.04,375.38 L120.96,373.22 L121.89,371.25 L122.81,369.51 L123.73,368.08 L124.66,366.99 L125.58,366.30 L126.51,366.02 L127.43,366.17 L128.35,366.73 L129.28,367.70 L130.20,369.03 L131.12,370.68 L132.05,372.58 L132.97,374.69 L133.90,376.94 L134.82,379.28 L135.74,381.65 L136.67,384.03 L137.59,386.37 L138.52,388.65 L139.44,390.85 L140.36,392.94 L141.29,394.93 L142.21,396.80 L143.13,398.56 L144.06,400.20 L144.98,401.72 L145.91,403.14 L146.83,404.45 L147.75,405.66 L148.68,406.77 L149.60,407.80 L150.53,408.75 L151.45,409.61 L152.37,410.41 L153.30,411.14 L154.22,411.81 L155.14,412.42 L156.07,412.99 L156.99,413.50 L157.92,413.97 L158.84,414.40 L159.76,414.80 L160.69,415.16 L161.61,415.49 L162.54,415.79 L163.46,416.07 L164.38,416.32 L165.31,416.55 L166.23,416.76 L167.15,416.95 L168.08,417.13 L169.00,417.29 L169.93,417.44 L170.85,417.57 L171.77,417.69 L172.70,417.81 L173.62,417.91 L174.54,418.00 L175.47,418.09 L176.39,418.17 L177.32,418.24 L178.24,418.30 L179.16,418.36 L180.09,418.51 L181.01,418.61 L181.94,418.68 L182.86,418.74 L183.78,418.78 L184.71,418.82 L185.63,418.84 L186.55,418.86 L187.48,418.88 L188.40,418.90 L189.33,418.91 L190.25,418.92 L191.17,418.93 L192.10,418.94 L193.02,418.95 L193.95,418.95 L194.87,418.96 L195.79,418.96 L196.72,418.97 L197.64,418.97 L198.56,418.97 L199.49,418.97 L200.41,418.98 L201.34,418.98 L202.26,418.98 L203.18,418.98 L204.11,418.98 L205.03,418.99 L205.96,418.99 L206.88,418.99 L207.80,418.99 L208.73,418.99 L209.65,418.99 L210.57,418.99 L211.50,418.99 L212.42,418.99 L213.35,418.99 L214.27,418.99 L215.19,419.00 L216.12,419.00 L217.04,419.00 L217.97,419.00 L218.89,419.00 L219.81,419.00 L220.74,419.00 L221.66,419.00 L222.58,419.00 L223.51,419.00 L224.43,419.00 L225.36,419.00 L226.28,419.00 L227.20,419.00 L228.13,419.00 L229.05,419.00 L229.97,419.00 L230.90,419.00 L231.82,419.00 L232.75,419.00 L233.67,419.00 L234.59,419.00 L235.52,419.00 L236.44,419.00 L237.37,419.00 L238.29,419.00 L239.21,419.00 L240.14,419.00 L241.06,419.00 L241.98,419.00 L242.91,419.00 L243.83,419.00 L244.76,419.00 L245.68,419.00 L246.60,419.00 L247.53,419.00 L248.45,419.00 L249.38,419.00 L250.30,419.00 L251.22,419.00 L252.15,419.00 L253.07,419.00 L253.99,419.00 L254.92,419.00 L255.84,419.00 L256.77,419.00 L257.69,419.00 L258.61,419.00 L259.54,419.00 L260.46,419.00 L261.39,419.00 L262.31,419.00 L263.23,419.00 L264.16,419.00 L265.08,419.00 L266.00,419.00 L266.93,419.00 L267.85,419.00 L268.78,419.00 L269.70,419.00 L270.62,419.00 L271.55,419.00 L272.47,419.00 L273.40,419.00 L274.32,419.00 L275.24,419.00 L276.17,419.00 L277.09,419.00 L278.01,419.00 L278.94,419.00 L279.86,419.00 L280.79,419.00 L281.71,419.00 L282.63,419.00 L283.56,419.00 L284.48,419.00 L285.40,419.00 L286.33,419.00 L287.25,419.00 L288.18,419.00 L289.10,419.00 L290.02,419.00 L290.95,419.00 L291.87,419.00 L292.80,419.00 L293.72,419.00 L294.64,419.00 L295.57,419.00 L296.49,419.00 L297.41,419.00 L298.34,419.00 L299.26,419.00 L300.19,419.00 L301.11,419.00 L302.03,419.00 L302.96,419.00 L303.88,419.00 L304.81,419.00 L305.73,419.00 L306.65,419.00 L307.58,419.00 L308.50,419.00 L309.42,419.00 L310.35,419.00 L311.27,419.00 L312.20,419.00 L313.12,419.00 L314.04,419.00 L314.97,419.00 L315.89,419.00 L316.82,419.00 L317.74,419.00" fill="none" stroke="#00ff00" stroke-width="2.7" stroke-dasharray="5.064,2.435" stroke-linejoin="round"/>
</g>
<rect x="39.85" y="355.0" width="277.15" height="127.55000000000001" fill="none" stroke="#000" stroke-width="1.6"/>
<text x="28.85" y="470.50" text-anchor="end" font-size="12.9">-0.2</text>
<text x="28.85" y="446.95" text-anchor="end" font-size="12.9">-0.1</text>
<text x="28.85" y="423.40" text-anchor="end" font-size="12.9">0</text>
<text x="28.85" y="399.85" text-anchor="end" font-size="12.9">0.1</text>
<text x="28.85" y="376.30" text-anchor="end" font-size="12.9">0.2</text>
<text x="49.20" y="376.10" text-anchor="start" font-size="12.9">(c)</text>
<clipPath id="cpd"><rect x="39.85" y="484.1" width="277.15" height="127.79999999999995"/></clipPath>
<path d="M86.04,611.9 V603.9 M86.04,484.1 V492.1 M132.23,611.9 V603.9 M132.23,484.1 V492.1 M178.42,611.9 V603.9 M178.42,484.1 V492.1 M224.62,611.9 V603.9 M224.62,484.1 V492.1 M270.81,611.9 V603.9 M270.81,484.1 V492.1 M39.85,595.25 H47.85 M317.0,595.25 H309.0 M39.85,571.65 H47.85 M317.0,571.65 H309.0 M39.85,548.05 H47.85 M317.0,548.05 H309.0 M39.85,524.45 H47.85 M317.0,524.45 H309.0 M39.85,500.85 H47.85 M317.0,500.85 H309.0" fill="none" stroke="#000" stroke-width="1.6"/>
<g clip-path="url(#cpd)">
<path d="M39.85,548.19 L40.77,548.19 L41.70,548.19 L42.62,548.19 L43.55,548.19 L44.47,548.19 L45.39,548.19 L46.32,548.19 L47.24,548.19 L48.16,548.19 L49.09,548.19 L50.01,548.19 L50.94,548.19 L51.86,548.19 L52.78,548.19 L53.71,548.19 L54.63,548.19 L55.56,548.19 L56.48,548.19 L57.40,548.19 L58.33,548.19 L59.25,548.19 L60.17,548.19 L61.10,548.19 L62.02,548.19 L62.95,548.19 L63.87,548.19 L64.79,548.19 L65.72,548.19 L66.64,548.19 L67.56,548.19 L68.49,548.19 L69.41,548.19 L70.34,548.19 L71.26,548.19 L72.18,548.19 L73.11,548.19 L74.03,548.20 L74.96,548.20 L75.88,548.20 L76.80,548.20 L77.73,548.20 L78.65,548.20 L79.57,548.20 L80.50,548.20 L81.42,548.21 L82.35,548.21 L83.27,548.21 L84.19,548.22 L85.12,548.22 L86.04,548.23 L86.97,548.23 L87.89,548.24 L88.81,548.25 L89.74,548.26 L90.66,548.27 L91.58,548.28 L92.51,548.30 L93.43,548.31 L94.36,548.33 L95.28,548.35 L96.20,548.37 L97.13,548.39 L98.05,548.42 L98.98,548.45 L99.90,548.48 L100.82,548.52 L101.75,548.56 L102.67,548.61 L103.59,548.66 L104.52,548.71 L105.44,548.77 L106.37,548.83 L107.29,548.91 L108.21,548.98 L109.14,549.07 L110.06,549.16 L110.99,549.27 L111.91,549.38 L112.83,549.51 L113.76,549.64 L114.68,549.79 L115.60,549.95 L116.53,550.13 L117.45,550.33 L118.38,550.54 L119.30,550.77 L120.22,551.03 L121.15,551.31 L122.07,551.62 L123.00,551.95 L123.92,552.32 L124.84,552.72 L125.77,553.16 L126.69,553.64 L127.61,554.17 L128.54,554.74 L129.46,555.37 L130.39,556.06 L131.31,556.81 L132.23,557.64 L133.16,558.54 L134.08,559.53 L135.00,560.61 L135.93,561.79 L136.85,563.09 L137.78,564.50 L138.70,566.05 L139.62,567.75 L140.55,569.60 L141.47,571.63 L142.40,573.66 L143.32,575.52 L144.24,577.21 L145.17,578.76 L146.09,580.17 L147.01,581.47 L147.94,582.65 L148.86,583.73 L149.79,584.71 L150.71,585.61 L151.63,586.43 L152.56,587.18 L153.48,587.87 L154.41,588.49 L155.33,589.06 L156.25,589.58 L157.18,590.06 L158.10,590.49 L159.02,590.88 L159.95,591.24 L160.87,591.57 L161.80,591.86 L162.72,592.13 L163.64,592.38 L164.57,592.60 L165.49,592.79 L166.42,592.97 L167.34,593.13 L168.26,593.28 L169.19,593.40 L170.11,593.51 L171.03,593.61 L171.96,593.70 L172.88,593.77 L173.81,593.83 L174.73,593.88 L175.65,593.91 L176.58,593.94 L177.50,593.96 L178.42,593.96 L179.35,593.96 L180.27,593.94 L181.20,593.91 L182.12,593.88 L183.04,593.83 L183.97,593.77 L184.89,593.70 L185.82,593.61 L186.74,593.51 L187.66,593.40 L188.59,593.28 L189.51,593.13 L190.43,592.97 L191.36,592.79 L192.28,592.60 L193.21,592.38 L194.13,592.13 L195.05,591.86 L195.98,591.57 L196.90,591.24 L197.83,590.88 L198.75,590.49 L199.67,590.06 L200.60,589.58 L201.52,589.06 L202.44,588.49 L203.37,587.87 L204.29,587.18 L205.22,586.43 L206.14,585.61 L207.06,584.71 L207.99,583.73 L208.91,582.65 L209.84,581.47 L210.76,580.17 L211.68,578.76 L212.61,577.21 L213.53,575.52 L214.45,573.66 L215.38,571.63 L216.30,569.60 L217.23,567.75 L218.15,566.05 L219.07,564.50 L220.00,563.09 L220.92,561.79 L221.85,560.61 L222.77,559.53 L223.69,558.54 L224.62,557.64 L225.54,556.81 L226.46,556.06 L227.39,555.37 L228.31,554.74 L229.24,554.17 L230.16,553.64 L231.08,553.16 L232.01,552.72 L232.93,552.32 L233.85,551.95 L234.78,551.62 L235.70,551.31 L236.63,551.03 L237.55,550.77 L238.47,550.54 L239.40,550.33 L240.32,550.13 L241.25,549.95 L242.17,549.79 L243.09,549.64 L244.02,549.51 L244.94,549.38 L245.86,549.27 L246.79,549.16 L247.71,549.07 L248.64,548.98 L249.56,548.91 L250.48,548.83 L251.41,548.77 L252.33,548.71 L253.26,548.66 L254.18,548.61 L255.10,548.56 L256.03,548.52 L256.95,548.48 L257.87,548.45 L258.80,548.42 L259.72,548.39 L260.65,548.37 L261.57,548.35 L262.49,548.33 L263.42,548.31 L264.34,548.30 L265.27,548.28 L266.19,548.27 L267.11,548.26 L268.04,548.25 L268.96,548.24 L269.88,548.23 L270.81,548.23 L271.73,548.22 L272.66,548.22 L273.58,548.21 L274.50,548.21 L275.43,548.21 L276.35,548.20 L277.28,548.20 L278.20,548.20 L279.12,548.20 L280.05,548.20 L280.97,548.20 L281.89,548.20 L282.82,548.20 L283.74,548.19 L284.67,548.19 L285.59,548.19 L286.51,548.19 L287.44,548.19 L288.36,548.19 L289.28,548.19 L290.21,548.19 L291.13,548.19 L292.06,548.19 L292.98,548.19 L293.90,548.19 L294.83,548.19 L295.75,548.19 L296.68,548.19 L297.60,548.19 L298.52,548.19 L299.45,548.19 L300.37,548.19 L301.29,548.19 L302.22,548.19 L303.14,548.19 L304.07,548.19 L304.99,548.19 L305.91,548.19 L306.84,548.19 L307.76,548.19 L308.69,548.19 L309.61,548.19 L310.53,548.19 L311.46,548.19 L312.38,548.19 L313.30,548.19 L314.23,548.19 L315.15,548.19 L316.08,548.19 L317.00,548.19" fill="none" stroke="#ff0000" stroke-width="2.7" stroke-linejoin="round"/>
<path d="M39.85,547.91 L40.77,547.91 L41.70,547.91 L42.62,547.91 L43.55,547.91 L44.47,547.91 L45.39,547.91 L46.32,547.91 L47.24,547.91 L48.16,547.91 L49.09,547.91 L50.01,547.91 L50.94,547.91 L51.86,547.91 L52.78,547.91 L53.71,547.91 L54.63,547.91 L55.56,547.91 L56.48,547.91 L57.40,547.91 L58.33,547.91 L59.25,547.91 L60.17,547.91 L61.10,547.91 L62.02,547.91 L62.95,547.91 L63.87,547.91 L64.79,547.91 L65.72,547.91 L66.64,547.91 L67.56,547.91 L68.49,547.91 L69.41,547.91 L70.34,547.91 L71.26,547.91 L72.18,547.91 L73.11,547.91 L74.03,547.90 L74.96,547.90 L75.88,547.90 L76.80,547.90 L77.73,547.90 L78.65,547.90 L79.57,547.90 L80.50,547.90 L81.42,547.89 L82.35,547.89 L83.27,547.89 L84.19,547.88 L85.12,547.88 L86.04,547.87 L86.97,547.87 L87.89,547.86 L88.81,547.85 L89.74,547.84 L90.66,547.83 L91.58,547.82 L92.51,547.80 L93.43,547.79 L94.36,547.77 L95.28,547.75 L96.20,547.73 L97.13,547.71 L98.05,547.68 L98.98,547.65 L99.90,547.62 L100.82,547.58 L101.75,547.54 L102.67,547.49 L103.59,547.44 L104.52,547.39 L105.44,547.33 L106.37,547.27 L107.29,547.19 L108.21,547.12 L109.14,547.03 L110.06,546.94 L110.99,546.83 L111.91,546.72 L112.83,546.59 L113.76,546.46 L114.68,546.31 L115.60,546.15 L116.53,545.97 L117.45,545.77 L118.38,545.56 L119.30,545.33 L120.22,545.07 L121.15,544.79 L122.07,544.48 L123.00,544.15 L123.92,543.78 L124.84,543.38 L125.77,542.94 L126.69,542.46 L127.61,541.93 L128.54,541.36 L129.46,540.73 L130.39,540.04 L131.31,539.29 L132.23,538.46 L133.16,537.56 L134.08,536.57 L135.00,535.49 L135.93,534.31 L136.85,533.01 L137.78,531.60 L138.70,530.05 L139.62,528.35 L140.55,526.50 L141.47,524.47 L142.40,522.44 L143.32,520.58 L144.24,518.89 L145.17,517.34 L146.09,515.93 L147.01,514.63 L147.94,513.45 L148.86,512.37 L149.79,511.39 L150.71,510.49 L151.63,509.67 L152.56,508.92 L153.48,508.23 L154.41,507.61 L155.33,507.04 L156.25,506.52 L157.18,506.04 L158.10,505.61 L159.02,505.22 L159.95,504.86 L160.87,504.53 L161.80,504.24 L162.72,503.97 L163.64,503.72 L164.57,503.50 L165.49,503.31 L166.42,503.13 L167.34,502.97 L168.26,502.82 L169.19,502.70 L170.11,502.59 L171.03,502.49 L171.96,502.40 L172.88,502.33 L173.81,502.27 L174.73,502.22 L175.65,502.19 L176.58,502.16 L177.50,502.14 L178.42,502.14 L179.35,502.14 L180.27,502.16 L181.20,502.19 L182.12,502.22 L183.04,502.27 L183.97,502.33 L184.89,502.40 L185.82,502.49 L186.74,502.59 L187.66,502.70 L188.59,502.82 L189.51,502.97 L190.43,503.13 L191.36,503.31 L192.28,503.50 L193.21,503.72 L194.13,503.97 L195.05,504.24 L195.98,504.53 L196.90,504.86 L197.83,505.22 L198.75,505.61 L199.67,506.04 L200.60,506.52 L201.52,507.04 L202.44,507.61 L203.37,508.23 L204.29,508.92 L205.22,509.67 L206.14,510.49 L207.06,511.39 L207.99,512.37 L208.91,513.45 L209.84,514.63 L210.76,515.93 L211.68,517.34 L212.61,518.89 L213.53,520.58 L214.45,522.44 L215.38,524.47 L216.30,526.50 L217.23,528.35 L218.15,530.05 L219.07,531.60 L220.00,533.01 L220.92,534.31 L221.85,535.49 L222.77,536.57 L223.69,537.56 L224.62,538.46 L225.54,539.29 L226.46,540.04 L227.39,540.73 L228.31,541.36 L229.24,541.93 L230.16,542.46 L231.08,542.94 L232.01,543.38 L232.93,543.78 L233.85,544.15 L234.78,544.48 L235.70,544.79 L236.63,545.07 L237.55,545.33 L238.47,545.56 L239.40,545.77 L240.32,545.97 L241.25,546.15 L242.17,546.31 L243.09,546.46 L244.02,546.59 L244.94,546.72 L245.86,546.83 L246.79,546.94 L247.71,547.03 L248.64,547.12 L249.56,547.19 L250.48,547.27 L251.41,547.33 L252.33,547.39 L253.26,547.44 L254.18,547.49 L255.10,547.54 L256.03,547.58 L256.95,547.62 L257.87,547.65 L258.80,547.68 L259.72,547.71 L260.65,547.73 L261.57,547.75 L262.49,547.77 L263.42,547.79 L264.34,547.80 L265.27,547.82 L266.19,547.83 L267.11,547.84 L268.04,547.85 L268.96,547.86 L269.88,547.87 L270.81,547.87 L271.73,547.88 L272.66,547.88 L273.58,547.89 L274.50,547.89 L275.43,547.89 L276.35,547.90 L277.28,547.90 L278.20,547.90 L279.12,547.90 L280.05,547.90 L280.97,547.90 L281.89,547.90 L282.82,547.90 L283.74,547.91 L284.67,547.91 L285.59,547.91 L286.51,547.91 L287.44,547.91 L288.36,547.91 L289.28,547.91 L290.21,547.91 L291.13,547.91 L292.06,547.91 L292.98,547.91 L293.90,547.91 L294.83,547.91 L295.75,547.91 L296.68,547.91 L297.60,547.91 L298.52,547.91 L299.45,547.91 L300.37,547.91 L301.29,547.91 L302.22,547.91 L303.14,547.91 L304.07,547.91 L304.99,547.91 L305.91,547.91 L306.84,547.91 L307.76,547.91 L308.69,547.91 L309.61,547.91 L310.53,547.91 L311.46,547.91 L312.38,547.91 L313.30,547.91 L314.23,547.91 L315.15,547.91 L316.08,547.91 L317.00,547.91" fill="none" stroke="#0000ff" stroke-width="2.7" stroke-linejoin="round"/>
<path d="M39.85,547.16 L40.77,547.08 L41.70,546.99 L42.62,546.89 L43.55,546.78 L44.47,546.66 L45.39,546.53 L46.32,546.38 L47.24,546.23 L48.16,546.06 L49.09,545.87 L50.01,545.66 L50.94,545.44 L51.86,545.19 L52.78,544.92 L53.71,544.63 L54.63,544.31 L55.56,543.96 L56.48,543.57 L57.40,543.15 L58.33,542.70 L59.25,542.19 L60.17,541.65 L61.10,541.05 L62.02,540.40 L62.95,539.68 L63.87,538.91 L64.79,538.06 L65.72,537.14 L66.64,536.14 L67.56,535.05 L68.49,533.86 L69.41,532.58 L70.34,531.20 L71.26,529.71 L72.18,528.10 L73.11,526.38 L74.03,524.54 L74.96,522.58 L75.88,520.52 L76.80,518.35 L77.73,516.09 L78.65,513.76 L79.57,511.39 L80.50,509.00 L81.42,506.64 L82.35,504.35 L83.27,502.19 L84.19,500.21 L85.12,498.47 L86.04,497.03 L86.97,495.94 L87.89,495.24 L88.81,494.96 L89.74,495.10 L90.66,495.67 L91.58,496.63 L92.51,497.96 L93.43,499.61 L94.36,501.52 L95.28,503.63 L96.20,505.88 L97.13,508.22 L98.05,510.61 L98.98,512.99 L99.90,515.33 L100.82,517.62 L101.75,519.82 L102.67,521.92 L103.59,523.91 L104.52,525.79 L105.44,527.55 L106.37,529.19 L107.29,530.72 L108.21,532.14 L109.14,533.46 L110.06,534.67 L110.99,535.79 L111.91,536.82 L112.83,537.77 L113.76,538.64 L114.68,539.44 L115.60,540.17 L116.53,540.84 L117.45,541.46 L118.38,542.02 L119.30,542.54 L120.22,543.01 L121.15,543.44 L122.07,543.84 L123.00,544.20 L123.92,544.53 L124.84,544.83 L125.77,545.11 L126.69,545.36 L127.61,545.59 L128.54,545.80 L129.46,546.00 L130.39,546.17 L131.31,546.33 L132.23,546.48 L133.16,546.62 L134.08,546.74 L135.00,546.85 L135.93,546.96 L136.85,547.05 L137.78,547.14 L138.70,547.21 L139.62,547.29 L140.55,547.35 L141.47,547.41 L142.40,547.56 L143.32,547.66 L144.24,547.73 L145.17,547.79 L146.09,547.83 L147.01,547.87 L147.94,547.89 L148.86,547.91 L149.79,547.93 L150.71,547.95 L151.63,547.96 L152.56,547.97 L153.48,547.98 L154.41,547.99 L155.33,548.00 L156.25,548.00 L157.18,548.01 L158.10,548.01 L159.02,548.02 L159.95,548.02 L160.87,548.02 L161.80,548.03 L162.72,548.03 L163.64,548.03 L164.57,548.03 L165.49,548.03 L166.42,548.04 L167.34,548.04 L168.26,548.04 L169.19,548.04 L170.11,548.04 L171.03,548.04 L171.96,548.04 L172.88,548.04 L173.81,548.05 L174.73,548.05 L175.65,548.05 L176.58,548.05 L177.50,548.05 L178.42,548.05 L179.35,548.05 L180.27,548.05 L181.20,548.05 L182.12,548.05 L183.04,548.05 L183.97,548.06 L184.89,548.06 L185.82,548.06 L186.74,548.06 L187.66,548.06 L188.59,548.06 L189.51,548.06 L190.43,548.06 L191.36,548.07 L192.28,548.07 L193.21,548.07 L194.13,548.07 L195.05,548.07 L195.98,548.08 L196.90,548.08 L197.83,548.08 L198.75,548.09 L199.67,548.09 L200.60,548.10 L201.52,548.10 L202.44,548.11 L203.37,548.12 L204.29,548.13 L205.22,548.14 L206.14,548.15 L207.06,548.17 L207.99,548.19 L208.91,548.21 L209.84,548.23 L210.76,548.27 L211.68,548.31 L212.61,548.37 L213.53,548.44 L214.45,548.54 L215.38,548.69 L216.30,548.75 L217.23,548.81 L218.15,548.89 L219.07,548.96 L220.00,549.05 L220.92,549.14 L221.85,549.25 L222.77,549.36 L223.69,549.48 L224.62,549.62 L225.54,549.77 L226.46,549.93 L227.39,550.10 L228.31,550.30 L229.24,550.51 L230.16,550.74 L231.08,550.99 L232.01,551.27 L232.93,551.57 L233.85,551.90 L234.78,552.26 L235.70,552.66 L236.63,553.09 L237.55,553.56 L238.47,554.08 L239.40,554.64 L240.32,555.26 L241.25,555.93 L242.17,556.66 L243.09,557.46 L244.02,558.33 L244.94,559.28 L245.86,560.31 L246.79,561.43 L247.71,562.64 L248.64,563.96 L249.56,565.38 L250.48,566.91 L251.41,568.55 L252.33,570.31 L253.26,572.19 L254.18,574.18 L255.10,576.28 L256.03,578.48 L256.95,580.77 L257.87,583.11 L258.80,585.49 L259.72,587.88 L260.65,590.22 L261.57,592.47 L262.49,594.58 L263.42,596.49 L264.34,598.14 L265.27,599.47 L266.19,600.43 L267.11,601.00 L268.04,601.14 L268.96,600.86 L269.88,600.16 L270.81,599.07 L271.73,597.63 L272.66,595.89 L273.58,593.91 L274.50,591.75 L275.43,589.46 L276.35,587.10 L277.28,584.71 L278.20,582.34 L279.12,580.01 L280.05,577.75 L280.97,575.58 L281.89,573.52 L282.82,571.56 L283.74,569.72 L284.67,568.00 L285.59,566.39 L286.51,564.90 L287.44,563.52 L288.36,562.24 L289.28,561.05 L290.21,559.96 L291.13,558.96 L292.06,558.04 L292.98,557.19 L293.90,556.42 L294.83,555.70 L295.75,555.05 L296.68,554.45 L297.60,553.91 L298.52,553.40 L299.45,552.95 L300.37,552.53 L301.29,552.14 L302.22,551.79 L303.14,551.47 L304.07,551.18 L304.99,550.91 L305.91,550.66 L306.84,550.44 L307.76,550.23 L308.69,550.04 L309.61,549.87 L310.53,549.72 L311.46,549.57 L312.38,549.44 L313.30,549.32 L314.23,549.21 L315.15,549.11 L316.08,549.02 L317.00,548.94" fill="none" stroke="#00ff00" stroke-width="2.7" stroke-dasharray="5.200,2.500" stroke-linejoin="round"/>
</g>
<rect x="39.85" y="484.1" width="277.15" height="127.79999999999995" fill="none" stroke="#000" stroke-width="1.6"/>
<text x="28.85" y="599.65" text-anchor="end" font-size="12.9">-0.2</text>
<text x="28.85" y="576.05" text-anchor="end" font-size="12.9">-0.1</text>
<text x="28.85" y="552.45" text-anchor="end" font-size="12.9">0</text>
<text x="28.85" y="528.85" text-anchor="end" font-size="12.9">0.1</text>
<text x="28.85" y="505.25" text-anchor="end" font-size="12.9">0.2</text>
<text x="49.30" y="505.90" text-anchor="start" font-size="12.9">(d)</text>
<text x="39.85" y="634.35" text-anchor="middle" font-size="12.9">-15</text>
<text x="86.04" y="634.35" text-anchor="middle" font-size="12.9">-10</text>
<text x="132.23" y="634.35" text-anchor="middle" font-size="12.9">-5</text>
<text x="180.22" y="634.35" text-anchor="middle" font-size="12.9">0</text>
<text x="226.42" y="634.35" text-anchor="middle" font-size="12.9">5</text>
<text x="272.61" y="634.35" text-anchor="middle" font-size="12.9">10</text>
<text x="318.80" y="634.35" text-anchor="middle" font-size="12.9">15</text>
<text x="178.40" y="9.30" text-anchor="middle" font-size="12.9">energy/NAC (a.u.)</text>
<text x="178.40" y="337.90" text-anchor="middle" font-size="12.9">R (a.u.)</text>
<text x="178.40" y="660.90" text-anchor="middle" font-size="12.9">R (a.u.)</text>
<path d="M244,49.3 H295.5" stroke="#ff0000" stroke-width="2.7" fill="none"/>
<path d="M244,67.2 H295.5" stroke="#0000ff" stroke-width="2.7" fill="none"/>
<path d="M244,85.3 H295.5" stroke="#00ff00" stroke-width="2.7" fill="none" stroke-dasharray="5.2,2.5"/>
<text x="200.3" y="53.6" font-size="11.8">ε</text>
<text x="205.6" y="57.2" font-size="10.3">BO</text>
<text x="221.2" y="47.2" font-size="10.3">(1)</text>
<text x="200.3" y="73.0" font-size="11.8">ε</text>
<text x="205.6" y="76.2" font-size="10.3">BO</text>
<text x="221.2" y="65.3" font-size="10.3">(2)</text>
<text x="233.00" y="89.00" text-anchor="end" font-size="12.9">NAC</text>
</svg>
</body></html>
